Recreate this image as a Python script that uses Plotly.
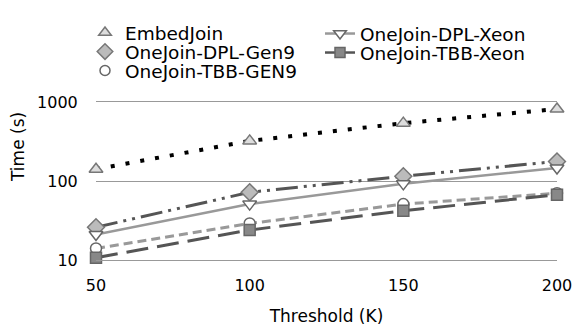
import plotly.graph_objects as go

thresholds = [50, 100, 150, 200]
embedjoin = [141, 322, 540, 815]
dpl_gen9 = [26, 72, 115, 177]
dpl_xeon = [21, 51, 92, 146]
tbb_gen9 = [14, 29, 51, 70]
tbb_xeon = [10.7, 24, 42, 67]

FONT = "DejaVu Sans"
W, H = 576, 328
ML, MR, MT, MB = 96, 19, 102, 68

series = [
    # name, values, line color, width, dash, symbol, fill, edge, size, legend id, legend x px, legend y px, legend shows line
    ("EmbedJoin", embedjoin, "#000000", 4, "4px,11px", "triangle-up", "#dddddd", "#777777", 12, "legend", 85, 33, False),
    ("OneJoin-DPL-Gen9", dpl_gen9, "#555555", 3, "22px,6px,3px,6px,3px,6px", "diamond", "#bbbbbb", "#777777", 13, "legend2", 85, 52, False),
    ("OneJoin-TBB-GEN9", tbb_gen9, "#999999", 3, "9px,5px", "circle", "#ffffff", "#666666", 11, "legend3", 85, 71, False),
    ("OneJoin-DPL-Xeon", dpl_xeon, "#999999", 2.5, "solid", "triangle-down", "#ffffff", "#666666", 12, "legend4", 320, 34, True),
    ("OneJoin-TBB-Xeon", tbb_xeon, "#555555", 3, "22px,9px", "square", "#888888", "#666666", 11, "legend5", 320, 53, True),
]

fig = go.Figure()
for name, vals, col, w, dash, sym, fill, edge, size, *_ in series:
    fig.add_trace(go.Scatter(
        x=thresholds, y=vals, name=name, mode="lines+markers", showlegend=False,
        line=dict(color=col, width=w, dash=dash),
        marker=dict(symbol=sym, size=size, color=fill, line=dict(color=edge, width=1.5)),
        cliponaxis=False,
    ))

legend_layout = {}
for name, vals, col, w, dash, sym, fill, edge, size, lid, lx, ly, showline in series:
    fig.add_trace(go.Scatter(
        x=[None], y=[None], name=name, legend=lid, showlegend=True,
        mode="lines+markers" if showline else "markers",
        line=dict(color=col, width=2.5, dash="solid"),
        marker=dict(symbol=sym, size=size - 1, color=fill, line=dict(color=edge, width=1.5)),
    ))
    legend_layout[lid] = dict(
        xref="container", yref="container", x=lx / W, y=1 - ly / H,
        xanchor="left", yanchor="middle", bgcolor="rgba(0,0,0,0)",
        font=dict(family=FONT, size=18.5, color="#000000"), itemclick=False,
    )

fig.update_layout(
    width=W, height=H,
    margin=dict(l=ML, r=MR, t=MT, b=MB, autoexpand=False),
    paper_bgcolor="white", plot_bgcolor="white",
    font=dict(family=FONT, size=15, color="#000000"),
    showlegend=True,
    xaxis=dict(range=[50, 200], tickvals=thresholds, ticktext=[str(t) for t in thresholds],
               showgrid=False, zeroline=False,
               showline=True, mirror=True, linecolor="#999999", linewidth=1,
               ticks="outside", ticklen=11, tickcolor="rgba(0,0,0,0)",
               title=dict(text="Threshold (K)", font=dict(size=17)),
               tickfont=dict(size=16)),
    yaxis=dict(type="log", range=[1, 3], tickvals=[10, 100, 1000],
               ticktext=["10", "100", "1000"], showgrid=True, gridcolor="#999999",
               gridwidth=1, zeroline=False, showline=False,
               ticks="outside", ticklen=14, tickcolor="rgba(0,0,0,0)",
               tickfont=dict(size=16)),
    annotations=[dict(text="Time (s)", textangle=-90, showarrow=False,
                      xref="paper", yref="paper",
                      x=(18 - ML) / (W - ML - MR), y=(H - MB - 147) / (H - MT - MB),
                      xanchor="center", yanchor="middle", font=dict(size=17))],
    **legend_layout,
)

fig.write_html("out.html", config={"displayModeBar": False},
               post_script="document.body.style.margin='0';")
